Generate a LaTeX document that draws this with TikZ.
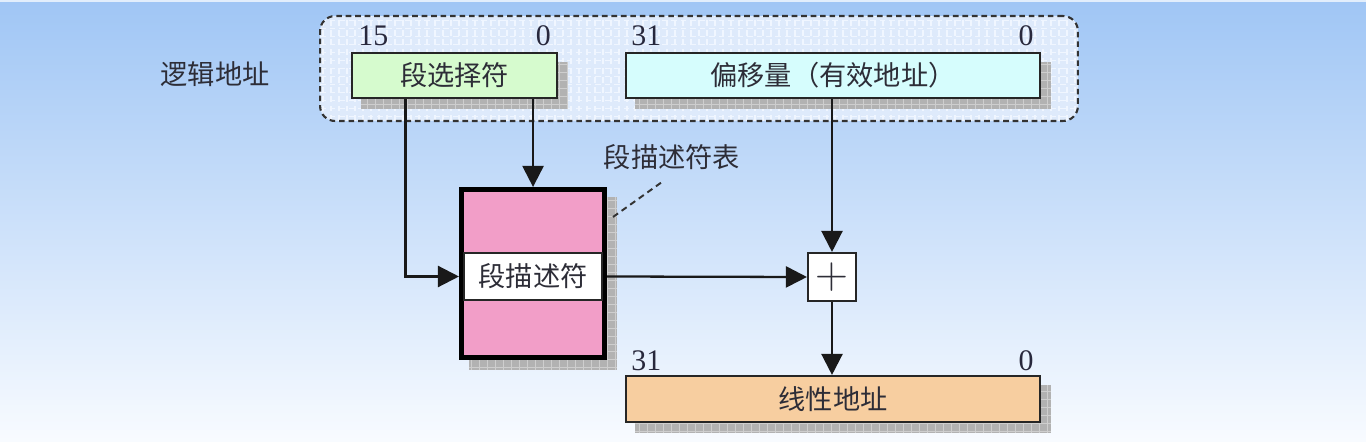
\documentclass[tikz,border=0pt]{standalone}
\usepackage{fontspec}
\newfontfamily\cjk{Noto Sans CJK SC}
\newfontfamily\numfont{Liberation Serif}
\usetikzlibrary{arrows.meta,backgrounds}
\definecolor{bgtop}{RGB}{160,198,245}
\definecolor{bgbot}{RGB}{248,251,255}
\definecolor{selc}{RGB}{214,251,206}
\definecolor{offc}{RGB}{214,253,253}
\definecolor{linc}{RGB}{247,206,160}
\definecolor{pinkc}{RGB}{242,158,200}
\definecolor{shc}{RGB}{178,178,178}
\definecolor{shgrid}{RGB}{206,206,206}
\definecolor{logc}{RGB}{222,234,251}
\definecolor{loggrid}{RGB}{240,246,255}
\definecolor{txt}{RGB}{45,45,55}
\definecolor{numc}{RGB}{40,40,60}
\begin{document}
\begin{tikzpicture}[x=0.02cm,y=-0.02cm,
  box/.style={draw=black!85, line width=1.2pt, inner sep=0pt,
    font=\cjk\fontsize{15.5}{17}\selectfont, text=txt},
  lbl/.style={inner sep=0pt, font=\cjk\fontsize{15.5}{17}\selectfont, text=txt},
  num/.style={inner sep=0pt, font=\numfont\fontsize{17}{17}\selectfont, text=numc},
  arr/.style={draw=black!90, line width=1.3pt, -{Triangle[length=12pt,width=12pt]}},
  shadowbox/.style={fill=shc, draw=none,
    path picture={\draw[shgrid, line width=0.5pt]
      (path picture bounding box.south west) grid[step=0.16cm]
      (path picture bounding box.north east);}},
  logicbox/.style={draw=black!80, line width=1.2pt, dash pattern=on 3.2pt off 2.2pt,
    rounded corners=0.3cm, fill=logc,
    path picture={\draw[loggrid, line width=0.7pt]
      (path picture bounding box.south west) grid[step=0.16cm]
      (path picture bounding box.north east);}},
]
\useasboundingbox (0,0) rectangle (1366,442);
\begin{scope}[on background layer]
  \shade[top color=bgtop, bottom color=bgbot] (0,2) rectangle (1366,442);
  \fill[white!70!bgtop] (0,0) rectangle (1366,2);
  \node[logicbox, minimum width=15.16cm, minimum height=2.1cm] (logic) at (699,68.5) {};
\end{scope}

% label
\node[lbl] (la) at (215,74) {逻辑地址};

% boxes
\node[box, fill=selc, minimum width=4.1cm, minimum height=0.9cm] (sel) at (454.5,75.5) {段选择符};
\node[box, fill=offc, minimum width=8.28cm, minimum height=0.9cm] (off) at (833,75.5) {偏移量（有效地址）};
\node[box, fill=linc, minimum width=8.28cm, minimum height=0.92cm] (lin) at (833,399) {线性地址};
\node[draw=black, line width=2.9pt, fill=pinkc, inner sep=0pt,
  minimum width=2.86cm, minimum height=3.36cm] (table) at (533,273.5) {};
\node[box, fill=white, line width=0.6pt, minimum width=2.76cm, minimum height=0.94cm] (desc) at (533,276.5) {段描述符};
\node[box, fill=white, minimum width=0.96cm, minimum height=0.96cm,
  font=\fontsize{26}{26}\selectfont] (plus) at (832,277) {+};

% shadows
\begin{scope}[on background layer]
  \path[shadowbox] ([shift={(10,10)}]sel.north west) rectangle ([shift={(10,10)}]sel.south east);
  \path[shadowbox] ([shift={(10,10)}]off.north west) rectangle ([shift={(10,10)}]off.south east);
  \path[shadowbox] ([shift={(10,10)}]lin.north west) rectangle ([shift={(10,10)}]lin.south east);
  \path[shadowbox] ([shift={(10,10)}]table.north west) rectangle ([shift={(10,10)}]table.south east);
\end{scope}

% bit numbers
\node[num, anchor=south west] (s15) at ([shift={(7,-6)}]sel.north west) {15};
\node[num, anchor=south east] (s0) at ([shift={(-7,-6)}]sel.north east) {0};
\node[num, anchor=south west] (o31) at ([shift={(6,-6)}]off.north west) {31};
\node[num, anchor=south east] (o0) at ([shift={(-7,-6)}]off.north east) {0};
\node[num, anchor=south west] (l31) at ([shift={(6,-4)}]lin.north west) {31};
\node[num, anchor=south east] (l0) at ([shift={(-7,-4)}]lin.north east) {0};

% table label
\node[lbl] (tlabel) at (672,157) {段描述符表};
\coordinate (lead) at (662,182);
\draw[black!80, line width=1.1pt, dash pattern=on 3.5pt off 2.5pt] ([shift={(6,30)}]table.north east) -- (lead);

% connectors
\coordinate (s1) at ([xshift=-0.98cm]sel.south);
\coordinate (s2) at ([xshift=-0.5cm]sel.south east);
\draw[arr] (s1) |- (desc.west -| table.west);
\draw[arr] (s2) -- (s2 |- table.north);
\draw[arr] (off.south -| plus.north) -- (plus.north);
\draw[arr] (desc.east -| table.east) -- (plus.west);
\draw[arr] (plus.south) -- (plus.south |- lin.north);
\end{tikzpicture}
\end{document}
